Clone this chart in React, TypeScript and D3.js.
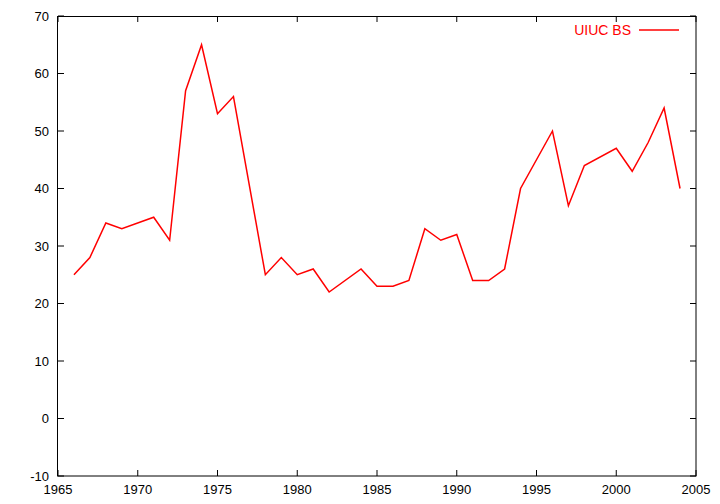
import React from "react";
import * as d3 from "d3";

const years = [1966, 1967, 1968, 1969, 1971, 1972, 1973, 1974, 1975, 1976, 1978, 1979, 1980, 1981, 1982, 1984, 1985, 1986, 1987, 1988, 1989, 1990, 1991, 1992, 1993, 1994, 1996, 1997, 1998, 2000, 2001, 2002, 2003, 2004];
const uiucBS = [25, 28, 34, 33, 35, 31, 57, 65, 53, 56, 25, 28, 25, 26, 22, 26, 23, 23, 24, 33, 31, 32, 24, 24, 26, 40, 50, 37, 44, 47, 43, 48, 54, 40];
const xTicks = [1965, 1970, 1975, 1980, 1985, 1990, 1995, 2000, 2005];
const yTicks = [-10, 0, 10, 20, 30, 40, 50, 60, 70];
const seriesName = "UIUC BS";

const W = 720;
const H = 504;
const L = 58, R = 696, T = 16, B = 476;

export default function App() {
  const x = d3.scaleLinear().domain([1965, 2005]).range([L, R]);
  const y = d3.scaleLinear().domain([-10, 70]).range([B, T]);
  const pts = years.map((yr, i) => [x(yr), y(uiucBS[i])] as [number, number]);
  const line = d3.line()(pts) || "";
  const font = "'Liberation Sans', Arial, sans-serif";
  const tl = 6;
  return (
    <svg width={W} height={H} style={{ position: "absolute", left: 0, top: 0, background: "#fff" }} fontFamily={font}>
      <rect x={0} y={0} width={W} height={H} fill="#fff" />
      {xTicks.map((t) => (
        <g key={"x" + t}>
          <line x1={x(t)} x2={x(t)} y1={B} y2={B - tl} stroke="#000" strokeWidth={1} />
          <line x1={x(t)} x2={x(t)} y1={T} y2={T + tl} stroke="#000" strokeWidth={1} />
          <text x={x(t)} y={494} textAnchor="middle" fontSize={13} fill="#000">{t}</text>
        </g>
      ))}
      {yTicks.map((t) => (
        <g key={"y" + t}>
          <line x1={L} x2={L + tl} y1={y(t)} y2={y(t)} stroke="#000" strokeWidth={1} />
          <line x1={R} x2={R - tl} y1={y(t)} y2={y(t)} stroke="#000" strokeWidth={1} />
          <text x={49} y={y(t)} dy="0.35em" textAnchor="end" fontSize={13} fill="#000">{t}</text>
        </g>
      ))}
      <rect x={L - 0.5} y={T + 0.5} width={R - L + 0.5} height={B - T - 0.5} fill="none" stroke="#000" strokeWidth={1} />
      <path d={line} fill="none" stroke="#ff0000" strokeWidth={1.5} strokeLinejoin="miter" />
      <text x={631} y={30} dy="0.35em" textAnchor="end" fontSize={14} fill="#ff0000">{seriesName}</text>
      <line x1={639} x2={679} y1={30} y2={30} stroke="#ff0000" strokeWidth={1.5} />
    </svg>
  );
}
